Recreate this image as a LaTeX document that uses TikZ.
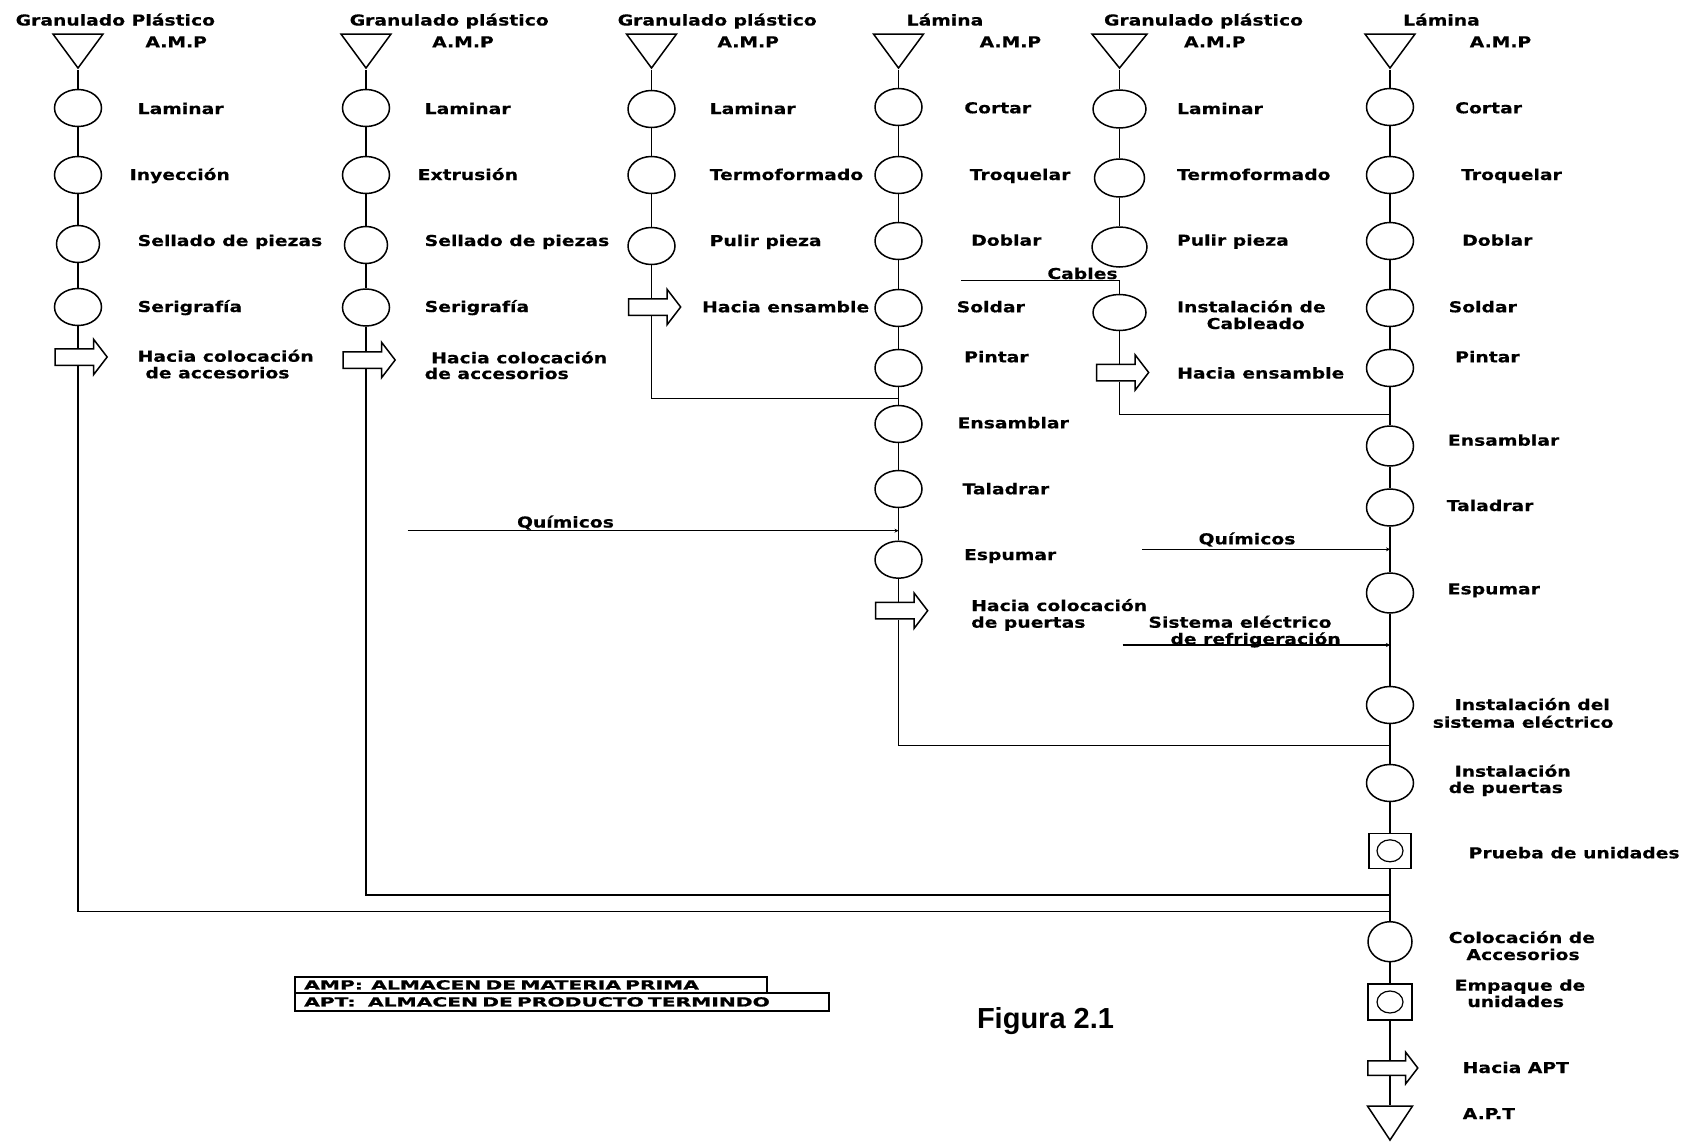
\documentclass[tikz,border=0pt]{standalone}
\usepackage{fontspec}
\newfontfamily\pixfont{DejaVu Sans}[FakeStretch=1.25,FakeBold=0.4]
\newfontfamily\legfont{DejaVu Sans}[FakeStretch=1.62,FakeBold=1.2]
\newfontfamily\figfont{Liberation Sans}
\usetikzlibrary{shapes.geometric,shapes.arrows,arrows.meta}
\begin{document}
\begin{tikzpicture}[x=1pt,y=-1pt,line width=1.5pt,
    opcirc/.style={ellipse,draw,fill=white,inner sep=0,minimum width=47pt,minimum height=37pt},
    inspbox/.style={rectangle,draw,fill=white,inner sep=0,minimum width=42pt,minimum height=35pt,
      path picture={\draw[line width=1.2pt] (path picture bounding box.center) ellipse (13pt and 11pt);}},
    storetri/.style={isosceles triangle,isosceles triangle stretches,shape border rotate=270,
      draw,fill=white,inner sep=0,minimum width=50pt,minimum height=34pt},
    movearr/.style={single arrow,draw,fill=white,inner xsep=0,inner ysep=7.5pt,text height=0pt,
      text depth=0pt,minimum height=52pt,single arrow head extend=9.5pt,single arrow tip angle=105},
    lbl/.style={inner sep=0,anchor=base west,font=\pixfont\bfseries\fontsize{15}{18}\selectfont},
    inflow/.style={line width=1.2pt,-{Stealth[length=4pt,width=4pt]}},
    legbox/.style={draw,line width=2.4pt,anchor=north west,inner xsep=9pt,inner ysep=0,align=left,
      font=\legfont\bfseries\fontsize{12.5}{14}\selectfont}]
  \useasboundingbox (0,0) rectangle (1700,1143);

  % columna 1
  \node[storetri,anchor=apex] (c1tri) at (78,70) {};
  \node[opcirc] (c1lam) at (78,108) {};
  \node[opcirc] (c1iny) at (78,175) {};
  \node[opcirc,minimum width=43pt] (c1sel) at (78,244) {};
  \node[opcirc] (c1ser) at (78,307) {};
  \node[movearr] (c1arr) at (78,357) {};
  \coordinate (j16) at (1390,911.7);
  \node[lbl] (t1) at (15,25.5) {Granulado Plástico};
  \node[lbl] (a1) at (144.7,47.3) {A.M.P};
  \node[lbl] (l1lam) at (137,114) {Laminar};
  \node[lbl] (l1iny) at (129,180) {Inyección};
  \node[lbl] (l1sel) at (137,246) {Sellado de piezas};
  \node[lbl] (l1ser) at (137,312) {Serigrafía};
  \node[lbl] (l1arr) at (137,361.7) {Hacia colocación};
  \node[lbl] (l1arrb) at (144.7,378.3) {de accesorios};

  % columna 2
  \node[storetri,anchor=apex] (c2tri) at (366,70) {};
  \node[opcirc] (c2lam) at (366,108) {};
  \node[opcirc] (c2ext) at (366,175) {};
  \node[opcirc,minimum width=43pt] (c2sel) at (366,245) {};
  \node[opcirc] (c2ser) at (366,307.5) {};
  \node[movearr] (c2arr) at (366,360) {};
  \coordinate (j26) at (1390,895);
  \node[lbl] (t2) at (349,25.5) {Granulado plástico};
  \node[lbl] (a2) at (431.5,47.3) {A.M.P};
  \node[lbl] (l2lam) at (424,114) {Laminar};
  \node[lbl] (l2ext) at (417,180) {Extrusión};
  \node[lbl] (l2sel) at (424,246) {Sellado de piezas};
  \node[lbl] (l2ser) at (424,312) {Serigrafía};
  \node[lbl] (l2arr) at (430.5,363.3) {Hacia colocación};
  \node[lbl] (l2arrb) at (424,379) {de accesorios};

  % columna 3
  \node[storetri,anchor=apex] (c3tri) at (651.5,70) {};
  \node[opcirc] (c3lam) at (651.5,109) {};
  \node[opcirc] (c3ter) at (651.5,175) {};
  \node[opcirc] (c3pul) at (651.5,246) {};
  \node[movearr] (c3arr) at (651.5,307) {};
  \coordinate (j34) at (898.5,398.3);
  \node[lbl] (t3) at (617,25.5) {Granulado plástico};
  \node[lbl] (a3) at (716.7,47.3) {A.M.P};
  \node[lbl] (l3lam) at (709,114) {Laminar};
  \node[lbl] (l3ter) at (709,180) {Termoformado};
  \node[lbl] (l3pul) at (709,246) {Pulir pieza};
  \node[lbl] (l3arr) at (701.4,312.3) {Hacia ensamble};

  % columna 4
  \node[storetri,anchor=apex] (c4tri) at (898.5,70) {};
  \node[opcirc] (c4cor) at (898.5,107) {};
  \node[opcirc] (c4tro) at (898.5,175) {};
  \node[opcirc] (c4dob) at (898.5,241) {};
  \node[opcirc] (c4sol) at (898.5,308) {};
  \node[opcirc] (c4pin) at (898.5,368) {};
  \node[opcirc] (c4ens) at (898.5,424) {};
  \node[opcirc] (c4tal) at (898.5,489) {};
  \node[opcirc] (c4esp) at (898.5,559.7) {};
  \node[movearr] (c4arr) at (898.5,610.7) {};
  \coordinate (qs4) at (407.7,530.7);
  \coordinate (qe4) at (898.5,530.7);
  \coordinate (j46) at (1390,745.7);
  \node[lbl] (t4) at (906,25.5) {Lámina};
  \node[lbl] (a4) at (978.9,47.3) {A.M.P};
  \node[lbl] (l4cor) at (963.6,113.3) {Cortar};
  \node[lbl] (l4tro) at (969,180) {Troquelar};
  \node[lbl] (l4dob) at (970.5,245.7) {Doblar};
  \node[lbl] (l4sol) at (956,312.3) {Soldar};
  \node[lbl] (l4pin) at (963.5,362.3) {Pintar};
  \node[lbl] (l4ens) at (956.8,428.3) {Ensamblar};
  \node[lbl] (l4tal) at (961.8,494.3) {Taladrar};
  \node[lbl] (l4esp) at (963.3,560) {Espumar};
  \node[lbl] (l4arr) at (970.5,611) {Hacia colocación};
  \node[lbl] (l4arrb) at (970.5,627.7) {de puertas};
  \node[lbl,anchor=base] (lq4) at (565.5,527.5) {Químicos};

  % columna 5
  \node[storetri,anchor=apex,minimum width=55pt] (c5tri) at (1119.5,70) {};
  \node[opcirc,minimum width=53pt,minimum height=38pt] (c5lam) at (1119.5,109) {};
  \node[opcirc,minimum width=50pt,minimum height=38pt] (c5ter) at (1119.5,178) {};
  \node[opcirc,minimum width=55pt,minimum height=40pt] (c5pul) at (1119.5,247) {};
  \node[opcirc,minimum width=53pt,minimum height=36pt] (c5ins) at (1119.5,312.5) {};
  \node[movearr] (c5arr) at (1119.5,372.5) {};
  \coordinate (cab) at (961,280.7);
  \coordinate (j56) at (1390,414.3);
  \node[lbl] (t5) at (1103.3,25.5) {Granulado plástico};
  \node[lbl] (a5) at (1183.3,47.3) {A.M.P};
  \node[lbl] (l5lam) at (1176.3,114) {Laminar};
  \node[lbl] (l5ter) at (1176.3,180) {Termoformado};
  \node[lbl] (l5pul) at (1176.3,245.7) {Pulir pieza};
  \node[lbl] (l5ins) at (1176.3,312.3) {Instalación de};
  \node[lbl] (l5insb) at (1206,329) {Cableado};
  \node[lbl] (l5arr) at (1176.5,378.5) {Hacia ensamble};
  \node[lbl,anchor=base] (lcab) at (1082.5,279) {Cables};

  % columna 6
  \node[storetri,anchor=apex] (c6tri) at (1390,70) {};
  \node[opcirc] (c6cor) at (1390,107) {};
  \node[opcirc] (c6tro) at (1390,175) {};
  \node[opcirc] (c6dob) at (1390,241) {};
  \node[opcirc] (c6sol) at (1390,308) {};
  \node[opcirc] (c6pin) at (1390,368) {};
  \node[opcirc,minimum height=40pt] (c6ens) at (1390,446) {};
  \node[opcirc] (c6tal) at (1390,507.5) {};
  \node[opcirc,minimum height=40pt] (c6esp) at (1390,593) {};
  \node[opcirc] (c6sis) at (1390,705) {};
  \node[opcirc] (c6pue) at (1390,783) {};
  \node[inspbox] (c6pru) at (1390,850.8) {};
  \node[opcirc,minimum width=44pt,minimum height=40pt] (c6col) at (1390,941.7) {};
  \node[inspbox,minimum width=44pt,minimum height=36pt] (c6emp) at (1390,1002) {};
  \node[movearr,minimum height=50pt,inner ysep=6.5pt,single arrow head extend=8.5pt] (c6arr) at (1390,1068) {};
  \node[storetri,anchor=apex,minimum width=45pt,minimum height=34pt] (c6apt) at (1390,1142) {};
  \coordinate (qs6) at (1142,549.3);
  \coordinate (qe6) at (1390,549.3);
  \coordinate (ss6) at (1122.6,645);
  \coordinate (se6) at (1390,645);
  \node[lbl] (t6) at (1402.5,25.5) {Lámina};
  \node[lbl] (a6) at (1469,47.3) {A.M.P};
  \node[lbl] (l6cor) at (1454.5,113.3) {Cortar};
  \node[lbl] (l6tro) at (1460.4,180) {Troquelar};
  \node[lbl] (l6dob) at (1461.5,245.7) {Doblar};
  \node[lbl] (l6sol) at (1448,312.3) {Soldar};
  \node[lbl] (l6pin) at (1454.5,362.3) {Pintar};
  \node[lbl] (l6ens) at (1447.2,445.7) {Ensamblar};
  \node[lbl] (l6tal) at (1446,511) {Taladrar};
  \node[lbl] (l6esp) at (1447,594.3) {Espumar};
  \node[lbl] (l6sis) at (1454,710) {Instalación del};
  \node[lbl] (l6sisb) at (1432,727.7) {sistema eléctrico};
  \node[lbl] (l6pue) at (1454,776.7) {Instalación};
  \node[lbl] (l6pueb) at (1448,793) {de puertas};
  \node[lbl] (l6pru) at (1468,858.3) {Prueba de unidades};
  \node[lbl] (l6col) at (1448,943) {Colocación de};
  \node[lbl] (l6colb) at (1465.7,960) {Accesorios};
  \node[lbl] (l6emp) at (1454,990.7) {Empaque de};
  \node[lbl] (l6empb) at (1466.7,1007) {unidades};
  \node[lbl] (l6arr) at (1462,1073) {Hacia APT};
  \node[lbl] (l6apt) at (1462,1119) {A.P.T};
  \node[lbl,anchor=base] (lq6) at (1247,544.3) {Químicos};
  \node[lbl,anchor=base] (lsis) at (1240,627.7) {Sistema eléctrico};
  \node[lbl,anchor=base] (lsisb) at (1255.6,644.3) {de refrigeración};

  \draw (c1tri) -- (c1lam) -- (c1iny) -- (c1sel) -- (c1ser) -- (c1arr);
  \draw (c1arr) |- (j16);
  \draw (c2tri) -- (c2lam) -- (c2ext) -- (c2sel) -- (c2ser) -- (c2arr);
  \draw (c2arr) |- (j26);
  \draw (c3tri) -- (c3lam) -- (c3ter) -- (c3pul) -- (c3arr);
  \draw (c3arr) |- (j34);
  \draw (c4tri) -- (c4cor) -- (c4tro) -- (c4dob) -- (c4sol) -- (c4pin) -- (c4ens)
    -- (c4tal) -- (c4esp) -- (c4arr);
  \draw (c4arr) |- (j46);
  \draw (c5tri) -- (c5lam) -- (c5ter) -- (c5pul);
  \draw (cab) -| (c5ins);
  \draw (c5ins) -- (c5arr);
  \draw (c5arr) |- (j56);
  \draw (c6tri) -- (c6cor) -- (c6tro) -- (c6dob) -- (c6sol) -- (c6pin) -- (c6ens)
    -- (c6tal) -- (c6esp) -- (c6sis) -- (c6pue) -- (c6pru) -- (c6col) -- (c6emp)
    -- (c6arr) -- (c6apt);
  \draw[inflow] (qs4) -- (qe4);
  \draw[inflow] (qs6) -- (qe6);
  \draw[inflow] (ss6) -- (se6);

  % leyenda
  \node[legbox,text width=454pt,minimum height=16pt] (leg1) at (294,975.7)
    {AMP:\ \ ALMACEN DE MATERIA PRIMA};
  \node[legbox,text width=516pt,minimum height=18pt] (leg2) at (294,991.7)
    {APT:\ \ \ ALMACEN DE PRODUCTO TERMINDO};
  \node[font=\figfont\bfseries\fontsize{29}{32}\selectfont] (fig) at (1045.5,1021) {Figura 2.1};
\end{tikzpicture}
\end{document}
